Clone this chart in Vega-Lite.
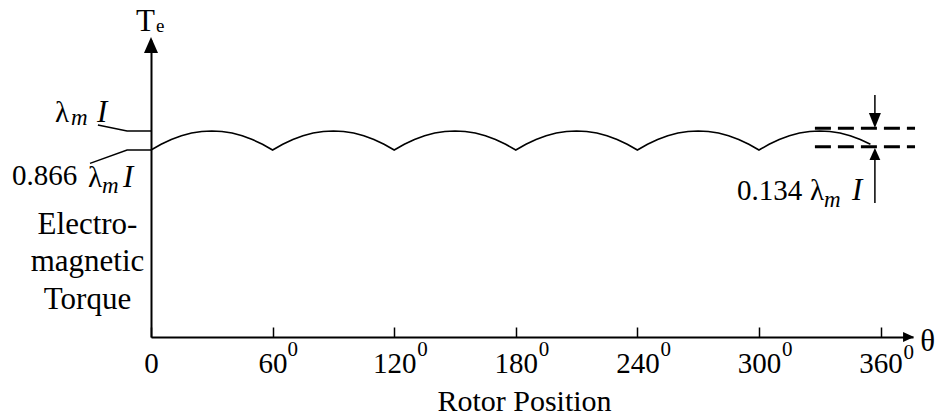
{
  "$schema": "https://vega.github.io/schema/vega-lite/v6.json",
  "width": 762,
  "height": 297,
  "autosize": {"type": "none"},
  "padding": {"left": 151, "top": 40, "right": 25, "bottom": 80},
  "background": "white",
  "config": {
    "view": {"stroke": null},
    "font": "Liberation Serif",
    "axis": {"grid": false, "labelFont": "Liberation Serif", "titleFont": "Liberation Serif", "labelColor": "black", "titleColor": "black"}
  },
  "datasets": {
    "torque": [
      {"deg": 0, "val": 0.866}, {"deg": 5, "val": 0.906}, {"deg": 10, "val": 0.94}, {"deg": 15, "val": 0.966}, {"deg": 20, "val": 0.985}, {"deg": 25, "val": 0.996}, {"deg": 30, "val": 1.0}, {"deg": 35, "val": 0.996}, {"deg": 40, "val": 0.985}, {"deg": 45, "val": 0.966}, {"deg": 50, "val": 0.94}, {"deg": 55, "val": 0.906},
      {"deg": 60, "val": 0.866}, {"deg": 65, "val": 0.906}, {"deg": 70, "val": 0.94}, {"deg": 75, "val": 0.966}, {"deg": 80, "val": 0.985}, {"deg": 85, "val": 0.996}, {"deg": 90, "val": 1.0}, {"deg": 95, "val": 0.996}, {"deg": 100, "val": 0.985}, {"deg": 105, "val": 0.966}, {"deg": 110, "val": 0.94}, {"deg": 115, "val": 0.906},
      {"deg": 120, "val": 0.866}, {"deg": 125, "val": 0.906}, {"deg": 130, "val": 0.94}, {"deg": 135, "val": 0.966}, {"deg": 140, "val": 0.985}, {"deg": 145, "val": 0.996}, {"deg": 150, "val": 1.0}, {"deg": 155, "val": 0.996}, {"deg": 160, "val": 0.985}, {"deg": 165, "val": 0.966}, {"deg": 170, "val": 0.94}, {"deg": 175, "val": 0.906},
      {"deg": 180, "val": 0.866}, {"deg": 185, "val": 0.906}, {"deg": 190, "val": 0.94}, {"deg": 195, "val": 0.966}, {"deg": 200, "val": 0.985}, {"deg": 205, "val": 0.996}, {"deg": 210, "val": 1.0}, {"deg": 215, "val": 0.996}, {"deg": 220, "val": 0.985}, {"deg": 225, "val": 0.966}, {"deg": 230, "val": 0.94}, {"deg": 235, "val": 0.906},
      {"deg": 240, "val": 0.866}, {"deg": 245, "val": 0.906}, {"deg": 250, "val": 0.94}, {"deg": 255, "val": 0.966}, {"deg": 260, "val": 0.985}, {"deg": 265, "val": 0.996}, {"deg": 270, "val": 1.0}, {"deg": 275, "val": 0.996}, {"deg": 280, "val": 0.985}, {"deg": 285, "val": 0.966}, {"deg": 290, "val": 0.94}, {"deg": 295, "val": 0.906},
      {"deg": 300, "val": 0.866}, {"deg": 305, "val": 0.906}, {"deg": 310, "val": 0.94}, {"deg": 315, "val": 0.966}, {"deg": 320, "val": 0.985}, {"deg": 325, "val": 0.996}, {"deg": 330, "val": 1.0}, {"deg": 335, "val": 0.996}, {"deg": 340, "val": 0.985}, {"deg": 345, "val": 0.966}, {"deg": 350, "val": 0.94}, {"deg": 355, "val": 0.906}
    ],
    "leaders": [
      {"lead": "a", "ord": 1, "deg": -26.2, "val": 1.042},
      {"lead": "a", "ord": 2, "deg": -11.8, "val": 1.0},
      {"lead": "a", "ord": 3, "deg": 0, "val": 1.0},
      {"lead": "b", "ord": 1, "deg": -30.1, "val": 0.772},
      {"lead": "b", "ord": 2, "deg": -11.8, "val": 0.866},
      {"lead": "b", "ord": 3, "deg": 0, "val": 0.866}
    ],
    "ripple": [
      {"deg": 327.6, "deg2": 377, "val": 1.019},
      {"deg": 327.6, "deg2": 377, "val": 0.889}
    ],
    "shafts": [
      {"deg": 357.2, "val": 1.253, "val2": 1.077},
      {"deg": 357.2, "val": 0.81, "val2": 0.493}
    ],
    "yhead": [{"deg": 0, "val": 1.605}],
    "xhead": [{"deg": 373.8, "val": -0.45}],
    "downhead": [{"deg": 357.2, "val": 1.074}],
    "uphead": [{"deg": 357.2, "val": 0.838}],
    "roman": [
      {"deg": -7.4, "val": 1.703, "txt": "T"},
      {"deg": 379.6, "val": -0.549, "txt": "θ"}
    ],
    "numbers": [
      {"deg": -68.6, "val": 0.62, "txt": "0.866"},
      {"deg": 289.2, "val": 0.514, "txt": "0.134"}
    ],
    "lambda": [
      {"deg": -47.4, "val": 1.063, "txt": "λ"},
      {"deg": -31.1, "val": 0.606, "txt": "λ"},
      {"deg": 325.2, "val": 0.514, "txt": "λ"}
    ],
    "italicI": [
      {"deg": -26.6, "val": 1.063, "txt": "I"},
      {"deg": -13.8, "val": 0.606, "txt": "I"},
      {"deg": 345.9, "val": 0.514, "txt": "I"}
    ],
    "subm": [
      {"deg": -39.5, "val": 1.042, "txt": "m"},
      {"deg": -24.2, "val": 0.563, "txt": "m"},
      {"deg": 332.1, "val": 0.465, "txt": "m"}
    ],
    "sube": [{"deg": 2.5, "val": 1.696, "txt": "e"}],
    "sup": [
      {"deg": 60, "val": -0.584, "txt": "0"},
      {"deg": 120, "val": -0.584, "txt": "0"},
      {"deg": 180, "val": -0.584, "txt": "0"},
      {"deg": 240, "val": -0.584, "txt": "0"},
      {"deg": 300, "val": -0.584, "txt": "0"},
      {"deg": 360, "val": -0.605, "txt": "0"}
    ]
  },
  "encoding": {
    "x": {
      "field": "deg", "type": "quantitative",
      "scale": {"domain": [0, 376], "nice": false, "zero": false},
      "axis": {
        "values": [0, 60, 120, 180, 240, 300, 360],
        "format": "d",
        "labelFontSize": 29,
        "labelBaseline": "alphabetic",
        "labelPadding": 45,
        "labelFlush": false,
        "labelOverlap": false,
        "tickSize": -10,
        "tickColor": "black",
        "tickWidth": 1.5,
        "domainColor": "black",
        "domainWidth": 2,
        "title": "Rotor Position",
        "titleFontSize": 30,
        "titleFontWeight": "normal",
        "titleX": 373,
        "titleY": 73,
        "titleAlign": "center",
        "titleAnchor": null,
        "titleBaseline": "alphabetic",
        "encode": {"labels": {"update": {"dy": {"signal": "datum.value === 360 ? 4 : 0"}}}}
      }
    },
    "y": {
      "field": "val", "type": "quantitative",
      "scale": {"domain": [-0.45, 1.64], "nice": false, "zero": false},
      "axis": {
        "ticks": false,
        "labels": false,
        "domainColor": "black",
        "domainWidth": 2,
        "title": ["Electro-", "magnetic", "Torque"],
        "titleAngle": 0,
        "titleFontSize": 31,
        "titleFontWeight": "normal",
        "titleLineHeight": 37.5,
        "titleX": -64,
        "titleY": 193,
        "titleAlign": "center",
        "titleAnchor": null,
        "titleBaseline": "alphabetic"
      }
    }
  },
  "layer": [
    {"data": {"name": "torque"}, "mark": {"type": "line", "color": "black", "strokeWidth": 1.6}},
    {"data": {"name": "leaders"}, "mark": {"type": "line", "color": "black", "strokeWidth": 1.5},
     "encoding": {"detail": {"field": "lead"}, "order": {"field": "ord", "type": "quantitative"}}},
    {"data": {"name": "ripple"}, "mark": {"type": "rule", "color": "black", "strokeWidth": 3, "strokeDash": [16, 7]},
     "encoding": {"x2": {"field": "deg2"}}},
    {"data": {"name": "shafts"}, "mark": {"type": "rule", "color": "black", "strokeWidth": 1.5},
     "encoding": {"y2": {"field": "val2"}}},
    {"data": {"name": "yhead"}, "mark": {"type": "point", "filled": true, "color": "black", "opacity": 1, "strokeWidth": 0, "size": 256, "shape": "M0,-1L0.875,1L-0.875,1Z"}},
    {"data": {"name": "xhead"}, "mark": {"type": "point", "filled": true, "color": "black", "opacity": 1, "strokeWidth": 0, "size": 121, "shape": "M1,0L-1,-0.9L-1,0.9Z"}},
    {"data": {"name": "downhead"}, "mark": {"type": "point", "filled": true, "color": "black", "opacity": 1, "strokeWidth": 0, "size": 225, "shape": "M0,1L0.8,-1L-0.8,-1Z"}},
    {"data": {"name": "uphead"}, "mark": {"type": "point", "filled": true, "color": "black", "opacity": 1, "strokeWidth": 0, "size": 144, "shape": "M0,-1L0.9,1L-0.9,1Z"}},
    {"data": {"name": "roman"}, "mark": {"type": "text", "font": "Liberation Serif", "fontSize": 31, "align": "left", "baseline": "alphabetic", "color": "black"},
     "encoding": {"text": {"field": "txt"}}},
    {"data": {"name": "numbers"}, "mark": {"type": "text", "font": "Liberation Serif", "fontSize": 29, "align": "left", "baseline": "alphabetic", "color": "black"},
     "encoding": {"text": {"field": "txt"}}},
    {"data": {"name": "lambda"}, "mark": {"type": "text", "font": "Liberation Serif", "fontSize": 29, "align": "left", "baseline": "alphabetic", "color": "black"},
     "encoding": {"text": {"field": "txt"}}},
    {"data": {"name": "italicI"}, "mark": {"type": "text", "font": "Liberation Serif", "fontSize": 31, "fontStyle": "italic", "align": "left", "baseline": "alphabetic", "color": "black"},
     "encoding": {"text": {"field": "txt"}}},
    {"data": {"name": "subm"}, "mark": {"type": "text", "font": "Liberation Serif", "fontSize": 23, "fontStyle": "italic", "align": "left", "baseline": "alphabetic", "color": "black"},
     "encoding": {"text": {"field": "txt"}}},
    {"data": {"name": "sube"}, "mark": {"type": "text", "font": "Liberation Serif", "fontSize": 19, "align": "left", "baseline": "alphabetic", "color": "black"},
     "encoding": {"text": {"field": "txt"}}},
    {"data": {"name": "sup"}, "transform": [{"filter": "datum.deg < 100"}],
     "mark": {"type": "text", "font": "Liberation Serif", "fontSize": 21, "align": "left", "baseline": "alphabetic", "color": "black", "dx": 15},
     "encoding": {"text": {"field": "txt"}}},
    {"data": {"name": "sup"}, "transform": [{"filter": "datum.deg >= 100"}],
     "mark": {"type": "text", "font": "Liberation Serif", "fontSize": 21, "align": "left", "baseline": "alphabetic", "color": "black", "dx": 23},
     "encoding": {"text": {"field": "txt"}}}
  ]
}
